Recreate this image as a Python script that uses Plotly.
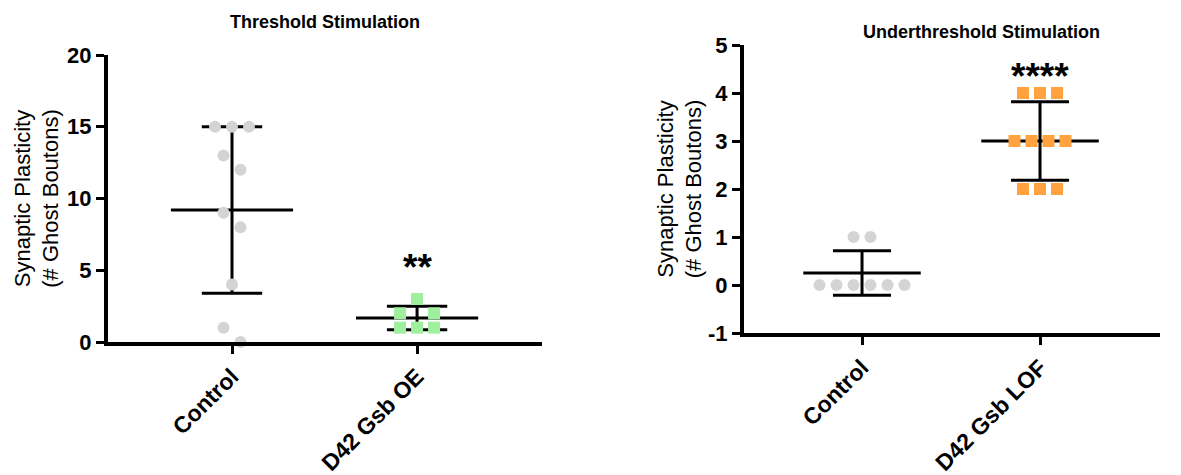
import numpy as np
import plotly.graph_objects as go

# ---------------- data ----------------
left_title = "Threshold Stimulation"
right_title = "Underthreshold Stimulation"
left_categories = ["Control", "D42 Gsb OE"]
right_categories = ["Control", "D42 Gsb LOF"]
left_control = [15, 15, 15, 13, 12, 9, 8, 4, 1, 0]
left_oe = [3, 2, 2, 1, 1, 1]
right_control = [1, 1, 0, 0, 0, 0, 0, 0]
right_lof = [4, 4, 4, 3, 3, 3, 3, 2, 2, 2]
left_sig = "**"
right_sig = "****"
y_title = "Synaptic Plasticity<br>(# Ghost Boutons)"
left_yticks = [0, 5, 10, 15, 20]
right_yticks = [-1, 0, 1, 2, 3, 4, 5]

# ---------------- layout constants ----------------
W, H = 1181, 475
FONT = "Liberation Sans, Arial, sans-serif"
L_X_PX = (108, 542)
L_Y_PX = (55, 342)
R_X_PX = (744, 1160)
R_Y_PX = (45, 333)
L_XR = [-0.67, 1.675]
R_XR = [-0.663, 1.674]
L_YR = [0, 20]
R_YR = [-1, 5]
MEAN_HW = 0.33
CAP_HW = 0.163
SPREAD_PX = 17
GROUP_PX = 20

GREY = "#D4D4D4"
GREEN = "#9EF09E"
ORANGE = "#FFA23F"


def swarm(values, center, xr, xpx, yr, ypx):
    px_per_x = (xpx[1] - xpx[0]) / (xr[1] - xr[0])
    px_per_y = (ypx[1] - ypx[0]) / (yr[1] - yr[0])
    s = SPREAD_PX / px_per_x
    thr = GROUP_PX / px_per_y
    vals = sorted(values, reverse=True)
    groups = []
    for v in vals:
        if groups and abs(groups[-1][0] - v) < thr:
            groups[-1].append(v)
        else:
            groups.append([v])
    xs, ys = [], []
    for g in groups:
        k = len(g)
        slots = [(i - (k - 1) / 2) * s for i in range(k)]
        slots = sorted(slots, key=lambda o: (round(abs(o), 6), o))
        for v, o in zip(g, slots):
            xs.append(center + o)
            ys.append(v)
    return xs, ys


def stat_lines(values, center):
    m = float(np.mean(values))
    sd = float(np.std(values, ddof=1))
    xs = [center - MEAN_HW, center + MEAN_HW, None,
          center, center, None,
          center - CAP_HW, center + CAP_HW, None,
          center - CAP_HW, center + CAP_HW]
    ys = [m, m, None,
          m - sd, m + sd, None,
          m + sd, m + sd, None,
          m - sd, m - sd]
    return xs, ys


fig = go.Figure()

panels = [
    ("x", "y", [left_control, left_oe], [GREY, GREEN], ["circle", "square"], L_XR, L_X_PX, L_YR, L_Y_PX),
    ("x2", "y2", [right_control, right_lof], [GREY, ORANGE], ["circle", "square"], R_XR, R_X_PX, R_YR, R_Y_PX),
]

for xa, ya, groups, cols, syms, xr, xpx, yr, ypx in panels:
    for i, vals in enumerate(groups):
        lx, ly = stat_lines(vals, i)
        fig.add_trace(go.Scatter(x=lx, y=ly, xaxis=xa, yaxis=ya, mode="lines",
                                 line=dict(color="black", width=3), showlegend=False,
                                 hoverinfo="skip"))
    for i, vals in enumerate(groups):
        mx, my = swarm(vals, i, xr, xpx, yr, ypx)
        fig.add_trace(go.Scatter(x=mx, y=my, xaxis=xa, yaxis=ya, mode="markers",
                                 marker=dict(symbol=syms[i], size=12, color=cols[i],
                                             line=dict(width=0)),
                                 showlegend=False, cliponaxis=False))


def xdom(p):
    return [p[0] / W, p[1] / W]


def ydom(p):
    return [(H - p[1]) / H, (H - p[0]) / H]


axis_common = dict(showgrid=False, zeroline=False, showline=True, linecolor="black",
                   linewidth=4, ticks="outside", ticklen=8, tickwidth=3, tickcolor="black",
                   automargin=False)

tickfont = dict(family=FONT, size=22, color="black", weight="bold")
xtickfont = dict(family=FONT, size=23, color="black", weight="bold")
ytitlefont = dict(family=FONT, size=22, color="black")

fig.update_layout(
    width=W, height=H,
    margin=dict(l=0, r=0, t=0, b=0),
    paper_bgcolor="white", plot_bgcolor="white",
    xaxis=dict(domain=xdom(L_X_PX), range=L_XR, tickvals=[0, 1], ticktext=left_categories,
               tickangle=-45, tickfont=xtickfont, anchor="y", **axis_common),
    yaxis=dict(domain=ydom(L_Y_PX), range=L_YR, tickvals=left_yticks,
               ticktext=[str(v) for v in left_yticks], tickfont=tickfont,
               anchor="x", title=dict(text=y_title, font=ytitlefont, standoff=3), **axis_common),
    xaxis2=dict(domain=xdom(R_X_PX), range=R_XR, tickvals=[0, 1], ticktext=right_categories,
                tickangle=-45, tickfont=xtickfont, anchor="y2", **axis_common),
    yaxis2=dict(domain=ydom(R_Y_PX), range=R_YR, tickvals=right_yticks,
                ticktext=[str(v) for v in right_yticks], tickfont=tickfont,
                anchor="x2", title=dict(text=y_title, font=ytitlefont, standoff=1), **axis_common),
    annotations=[
        dict(text=f"<b>{left_title}</b>", xref="paper", yref="paper", x=325 / W, y=1 - 22 / H,
             xanchor="center", yanchor="middle", showarrow=False,
             font=dict(family=FONT, size=18, color="black")),
        dict(text=f"<b>{right_title}</b>", xref="paper", yref="paper", x=981 / W, y=1 - 32 / H,
             xanchor="center", yanchor="middle", showarrow=False,
             font=dict(family=FONT, size=18, color="black")),
        dict(text=f"<b>{left_sig}</b>", xref="x", yref="y", x=1, y=5.2,
             xanchor="center", yanchor="middle", showarrow=False,
             font=dict(family=FONT, size=37, color="black")),
        dict(text=f"<b>{right_sig}</b>", xref="x2", yref="y2", x=1, y=4.35,
             xanchor="center", yanchor="middle", showarrow=False,
             font=dict(family=FONT, size=37, color="black")),
    ],
)

fig.write_html("out.html", config={"displayModeBar": False},
               post_script="document.body.style.margin='0';document.body.style.padding='0';")
